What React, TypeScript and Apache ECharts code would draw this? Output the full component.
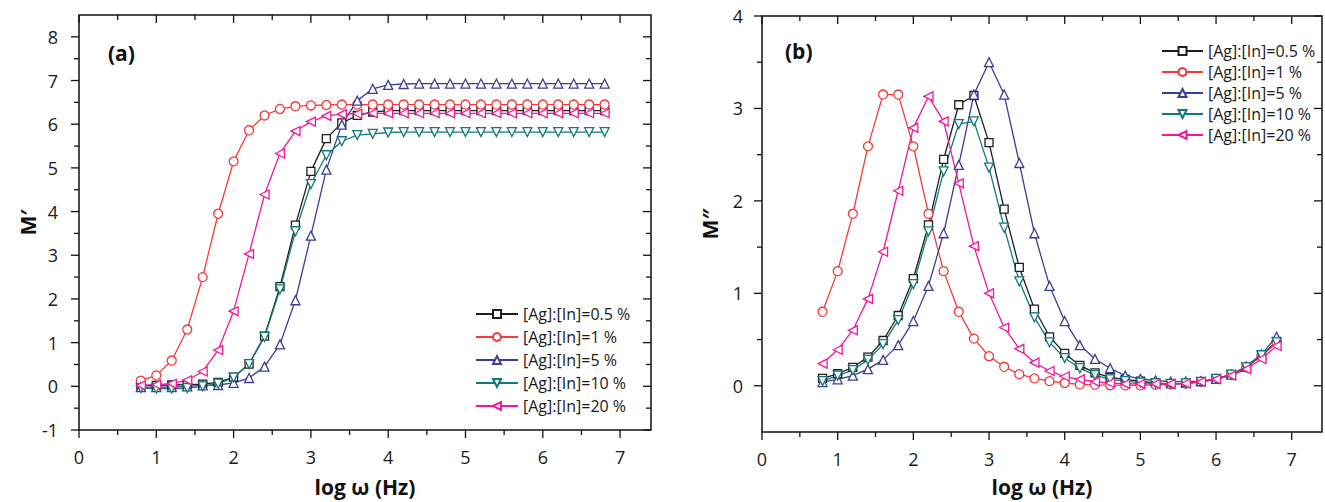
import React, { useEffect, useRef } from "react";
import * as echarts from "echarts";

const logW = [0.8, 1.0, 1.2, 1.4, 1.6, 1.8, 2.0, 2.2, 2.4, 2.6, 2.8, 3.0, 3.2, 3.4, 3.6, 3.8, 4.0, 4.2, 4.4, 4.6, 4.8, 5.0, 5.2, 5.4, 5.6, 5.8, 6.0, 6.2, 6.4, 6.6, 6.8];

const seriesNames = ["[Ag]:[In]=0.5 %", "[Ag]:[In]=1 %", "[Ag]:[In]=5 %", "[Ag]:[In]=10 %", "[Ag]:[In]=20 %"];
const colors = ["#1e1e1e", "#f23a3a", "#3c3c9c", "#137878", "#f0179a"];

// M' (panel a)
const mReal05 = [0.02, 0.02, 0.03, 0.04, 0.05, 0.09, 0.21, 0.51, 1.15, 2.28, 3.69, 4.92, 5.67, 6.03, 6.2, 6.28, 6.31, 6.31, 6.31, 6.31, 6.31, 6.31, 6.31, 6.31, 6.31, 6.31, 6.31, 6.31, 6.31, 6.31, 6.31];
const mReal1 = [0.13, 0.25, 0.59, 1.3, 2.5, 3.95, 5.15, 5.86, 6.2, 6.35, 6.41, 6.43, 6.44, 6.45, 6.45, 6.45, 6.45, 6.45, 6.45, 6.45, 6.45, 6.45, 6.45, 6.45, 6.45, 6.45, 6.45, 6.45, 6.45, 6.45, 6.45];
const mReal5 = [-0.02, -0.02, -0.02, 0.0, 0.02, 0.03, 0.08, 0.19, 0.45, 0.96, 1.97, 3.45, 4.96, 5.99, 6.54, 6.81, 6.9, 6.92, 6.93, 6.93, 6.93, 6.93, 6.93, 6.93, 6.93, 6.93, 6.93, 6.93, 6.93, 6.93, 6.93];
const mReal10 = [-0.04, -0.05, -0.05, -0.04, 0.0, 0.06, 0.2, 0.51, 1.13, 2.22, 3.55, 4.63, 5.29, 5.61, 5.75, 5.78, 5.81, 5.82, 5.82, 5.82, 5.82, 5.82, 5.82, 5.82, 5.82, 5.82, 5.82, 5.82, 5.82, 5.82, 5.82];
const mReal20 = [0.02, 0.04, 0.06, 0.14, 0.34, 0.83, 1.72, 3.03, 4.39, 5.33, 5.84, 6.06, 6.19, 6.23, 6.24, 6.25, 6.25, 6.25, 6.25, 6.25, 6.25, 6.25, 6.25, 6.25, 6.25, 6.25, 6.25, 6.25, 6.25, 6.25, 6.25];

// M'' (panel b)
const mImag05 = [0.08, 0.13, 0.2, 0.31, 0.49, 0.76, 1.16, 1.74, 2.45, 3.04, 3.14, 2.63, 1.91, 1.28, 0.83, 0.53, 0.35, 0.22, 0.14, 0.09, 0.07, 0.05, 0.03, 0.02, 0.025, 0.045, 0.075, 0.12, 0.2, 0.33, 0.48];
const mImag1 = [0.8, 1.24, 1.86, 2.59, 3.15, 3.15, 2.59, 1.86, 1.24, 0.8, 0.51, 0.32, 0.205, 0.126, 0.08, 0.05, 0.03, 0.015, 0.01, 0.006, 0.005, 0.005, 0.01, 0.015, 0.025, 0.045, 0.075, 0.12, 0.2, 0.32, 0.47];
const mImag5 = [0.04, 0.07, 0.11, 0.18, 0.28, 0.44, 0.7, 1.08, 1.65, 2.39, 3.15, 3.5, 3.15, 2.41, 1.65, 1.08, 0.7, 0.44, 0.29, 0.19, 0.11, 0.075, 0.057, 0.045, 0.045, 0.05, 0.075, 0.12, 0.21, 0.34, 0.53];
const mImag10 = [0.05, 0.11, 0.17, 0.28, 0.45, 0.71, 1.1, 1.67, 2.32, 2.83, 2.86, 2.36, 1.71, 1.13, 0.74, 0.47, 0.3, 0.19, 0.115, 0.07, 0.05, 0.035, 0.025, 0.02, 0.025, 0.043, 0.075, 0.12, 0.2, 0.33, 0.47];
const mImag20 = [0.24, 0.39, 0.6, 0.94, 1.45, 2.11, 2.79, 3.13, 2.86, 2.19, 1.51, 1.0, 0.63, 0.4, 0.25, 0.16, 0.1, 0.07, 0.045, 0.03, 0.02, 0.02, 0.02, 0.02, 0.025, 0.043, 0.07, 0.11, 0.18, 0.29, 0.43];

// tick positions (axis values)
const xTicksMajor = [0, 1, 2, 3, 4, 5, 6, 7];
const xTicksMinor = [0.5, 1.5, 2.5, 3.5, 4.5, 5.5, 6.5];
const yTicksMajorA = [-1, 0, 1, 2, 3, 4, 5, 6, 7, 8];
const yTicksMinorA = [-0.5, 0.5, 1.5, 2.5, 3.5, 4.5, 5.5, 6.5, 7.5];
const yTicksMajorB = [0, 1, 2, 3, 4];
const yTicksMinorB = [0.5, 1.5, 2.5, 3.5];

const symbols = [
  "rect",
  "circle",
  "triangle",
  "path://M0,0 L10,0 L5,8.66 Z",
  "path://M0,5 L8.66,0 L8.66,10 Z",
];

const FONT = "'Open Sans', 'Noto Sans', sans-serif";
const INK = "#111111";

export default function App() {
  const ref = useRef<HTMLDivElement>(null);
  useEffect(() => {
    document.body.style.margin = "0";
    if (!ref.current) return;
    const chart = echarts.init(ref.current, undefined, { renderer: "svg" });

    const intLabel = (v: number) => (Math.abs(v - Math.round(v)) < 1e-9 ? String(Math.round(v)) : "");
    const nameStyle = { fontSize: 21, fontWeight: "bold", fontFamily: FONT, color: INK };

    const xAxis = (grid: number, nameGap: number) => ({
      type: "value",
      gridIndex: grid,
      position: "bottom",
      min: 0,
      max: 7.4,
      interval: 1,
      axisLine: { show: false, onZero: false },
      axisTick: { show: false },
      splitLine: { show: false },
      axisLabel: { show: true, color: "#1a1a1a", fontSize: 18, fontFamily: FONT, margin: 18, formatter: intLabel },
      name: "log ω (Hz)",
      nameLocation: "middle",
      nameGap,
      nameTextStyle: { ...nameStyle },
    });

    const yAxes = [
      {
        type: "value",
        gridIndex: 0,
        position: "left",
        min: -1,
        max: 8.5,
        interval: 1,
        axisLine: { show: false, onZero: false },
        axisTick: { show: false },
        splitLine: { show: false },
        axisLabel: { show: true, color: "#1a1a1a", fontSize: 18, fontFamily: FONT, margin: 21, formatter: intLabel },
        name: "M′",
        nameLocation: "middle",
        nameRotate: 90,
        nameGap: 38,
        nameTextStyle: { ...nameStyle },
      },
      {
        type: "value",
        gridIndex: 1,
        position: "left",
        min: -0.5,
        max: 4,
        interval: 0.5,
        axisLine: { show: false, onZero: false },
        axisTick: { show: false },
        splitLine: { show: false },
        axisLabel: {
          show: true,
          color: "#1a1a1a",
          fontSize: 18,
          fontFamily: FONT,
          margin: 19,
          formatter: (v: number) => (v < 0 ? "" : intLabel(v)),
        },
        name: "M″",
        nameLocation: "middle",
        nameRotate: 90,
        nameGap: 42,
        nameTextStyle: { ...nameStyle },
      },
    ];

    // Frame and ticks drawn through the axes' own scales (api.coord)
    const frameSeries = (xi: number, yMin: number, yMax: number, yMajor: number[], yMinor: number[]) => ({
      type: "custom",
      name: "frame" + xi,
      xAxisIndex: xi,
      yAxisIndex: xi,
      coordinateSystem: "cartesian2d",
      clip: false,
      silent: true,
      z: 1,
      data: [[0, 0]],
      renderItem: (params: any, api: any) => {
        const p0 = api.coord([0, yMin]);
        const p1 = api.coord([7.4, yMax]);
        const x0 = p0[0];
        const y0 = p0[1];
        const x1 = p1[0];
        const y1 = p1[1];
        const st = { stroke: INK, lineWidth: 1.3, fill: "none" };
        const children: any[] = [
          {
            type: "rect",
            shape: { x: x0, y: y1, width: x1 - x0, height: y0 - y1 },
            style: { stroke: INK, lineWidth: 1.5, fill: "none" },
          },
        ];
        const xt = (vals: number[], len: number) => {
          vals.forEach((v) => {
            const x = api.coord([v, yMin])[0];
            children.push({ type: "line", shape: { x1: x, y1: y0, x2: x, y2: y0 + len }, style: st });
            children.push({ type: "line", shape: { x1: x, y1: y1, x2: x, y2: y1 + len }, style: st });
          });
        };
        const yt = (vals: number[], len: number) => {
          vals.forEach((v) => {
            const y = api.coord([0, v])[1];
            children.push({ type: "line", shape: { x1: x0 - len, y1: y, x2: x0, y2: y }, style: st });
            children.push({ type: "line", shape: { x1: x1 - len, y1: y, x2: x1, y2: y }, style: st });
          });
        };
        xt(xTicksMajor, 8);
        xt(xTicksMinor, 5);
        yt(yMajor, 8);
        yt(yMinor, 5);
        return { type: "group", children };
      },
    });

    const realSets = [mReal05, mReal1, mReal5, mReal10, mReal20];
    const imagSets = [mImag05, mImag1, mImag5, mImag10, mImag20];

    const mkSeries = (sets: number[][], xi: number) =>
      sets.map((vals, i) => ({
        type: "line",
        name: seriesNames[i],
        xAxisIndex: xi,
        yAxisIndex: xi,
        data: logW.map((x, k) => [x, vals[k]]),
        symbol: symbols[i],
        symbolSize: i === 0 ? 8 : 9,
        showAllSymbol: true,
        lineStyle: { color: colors[i], width: 1.3 },
        itemStyle: { color: "#ffffff", borderColor: colors[i], borderWidth: 1.3 },
        z: 2,
      }));

    const legend = (left: number, top: number, itemWidth: number, itemGap: number) => ({
      orient: "vertical",
      left,
      top,
      itemWidth,
      itemHeight: 10,
      itemGap,
      textStyle: { fontSize: 16, fontFamily: FONT, color: "#1a1a1a" },
      data: seriesNames.slice(),
      selectedMode: false,
    });

    chart.setOption({
      animation: false,
      grid: [
        { left: 79, top: 15, width: 572, height: 418 },
        { left: 762, top: 16, width: 566, height: 419 },
      ],
      xAxis: [xAxis(0, 46), xAxis(1, 44)],
      yAxis: yAxes,
      legend: [legend(470, 301, 42, 7), legend(1156, 38, 41, 5)],
      graphic: [
        {
          type: "text",
          left: 108,
          top: 42,
          style: { text: "(a)", fontSize: 21, fontWeight: "bold", fontFamily: FONT, fill: INK },
        },
        {
          type: "text",
          left: 785,
          top: 40,
          style: { text: "(b)", fontSize: 21, fontWeight: "bold", fontFamily: FONT, fill: INK },
        },
      ],
      series: [
        frameSeries(0, -1, 8.5, yTicksMajorA, yTicksMinorA),
        frameSeries(1, -0.5, 4, yTicksMajorB, yTicksMinorB),
        ...mkSeries(realSets, 0),
        ...mkSeries(imagSets, 1),
      ],
    });

    return () => chart.dispose();
  }, []);

  return <div ref={ref} style={{ width: 1325, height: 502 }} />;
}
